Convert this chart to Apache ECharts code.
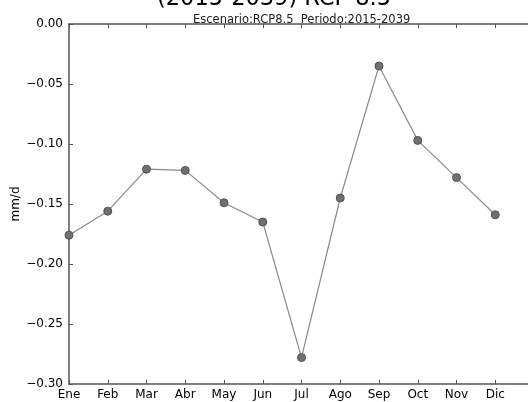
<!DOCTYPE html>
<html><head><meta charset="utf-8">
<script src="https://cdn.jsdelivr.net/npm/echarts@6/dist/echarts.min.js"></script>
<style>html,body{margin:0;padding:0;background:#fff}#c{width:528px;height:402px}</style>
</head><body><div id="c"></div>
<script>
const months = ['Ene','Feb','Mar','Abr','May','Jun','Jul','Ago','Sep','Oct','Nov','Dic'];
const values = [-0.176,-0.156,-0.121,-0.122,-0.149,-0.165,-0.278,-0.145,-0.035,-0.097,-0.128,-0.159];
const yTicks = [0,-0.05,-0.10,-0.15,-0.20,-0.25,-0.30];
const titleText = '(2015-2039) RCP 8.5';
const subtitleText = 'Escenario:RCP8.5  Periodo:2015-2039';
const yLabel = 'mm/d';

const chart = echarts.init(document.getElementById('c'), null, {renderer:'canvas'});
const font = 'DejaVu Sans';
const spine = '#555';
chart.setOption({
  animation:false,
  title:[
    {text:titleText, left:152, top:-17, textStyle:{fontFamily:font,fontSize:22.5,fontWeight:'normal',color:'#000'}},
    {text:subtitleText, left:188, top:9, textStyle:{fontFamily:font,fontSize:11.5,fontWeight:'normal',color:'#222'}}
  ],
  grid:{left:69, top:24, width:465, height:360, containLabel:false, outerBoundsMode:'none'},
  xAxis:[{
    type:'value', min:0, max:12, interval:1, position:'bottom',
    axisLine:{show:true,onZero:false,lineStyle:{color:spine,width:1.5}},
    axisTick:{show:true,inside:true,length:4,lineStyle:{color:spine}},
    axisLabel:{fontFamily:font,fontSize:12,color:'#000',margin:5,
      formatter:v=>months[v]||''},
    splitLine:{show:false}
  },{
    type:'value', min:0, max:12, interval:1, position:'top',
    axisLine:{show:true,onZero:false,lineStyle:{color:spine,width:1.5}},
    axisTick:{show:true,inside:true,length:4,lineStyle:{color:spine}},
    axisLabel:{show:false}, splitLine:{show:false}
  }],
  yAxis:{
    type:'value', min:-0.30, max:0, interval:0.05,
    name:yLabel, nameLocation:'middle', nameGap:47, nameRotate:90, nameMoveOverlap:false,
    nameTextStyle:{fontFamily:font,fontSize:12,color:'#000'},
    axisLine:{show:true,onZero:false,lineStyle:{color:spine,width:1.5}},
    axisTick:{show:true,inside:true,length:4,lineStyle:{color:spine}},
    axisLabel:{fontFamily:font,fontSize:12,color:'#000',margin:6,
      formatter:v=>{const t=yTicks.find(x=>Math.abs(x-v)<1e-9); const s=(t===undefined?v:t); return (s<0?'\u2212':'')+Math.abs(s).toFixed(2);}},
    splitLine:{show:false}
  },
  series:[{
    type:'line', xAxisIndex:0,
    data: values.map((v,i)=>[i,v]),
    symbol:'circle', symbolSize:8,
    itemStyle:{color:'#707070', borderColor:'#505050', borderWidth:1},
    lineStyle:{color:'#8a8a8a', width:1.2},
    clip:false
  }]
});
</script></body></html>
